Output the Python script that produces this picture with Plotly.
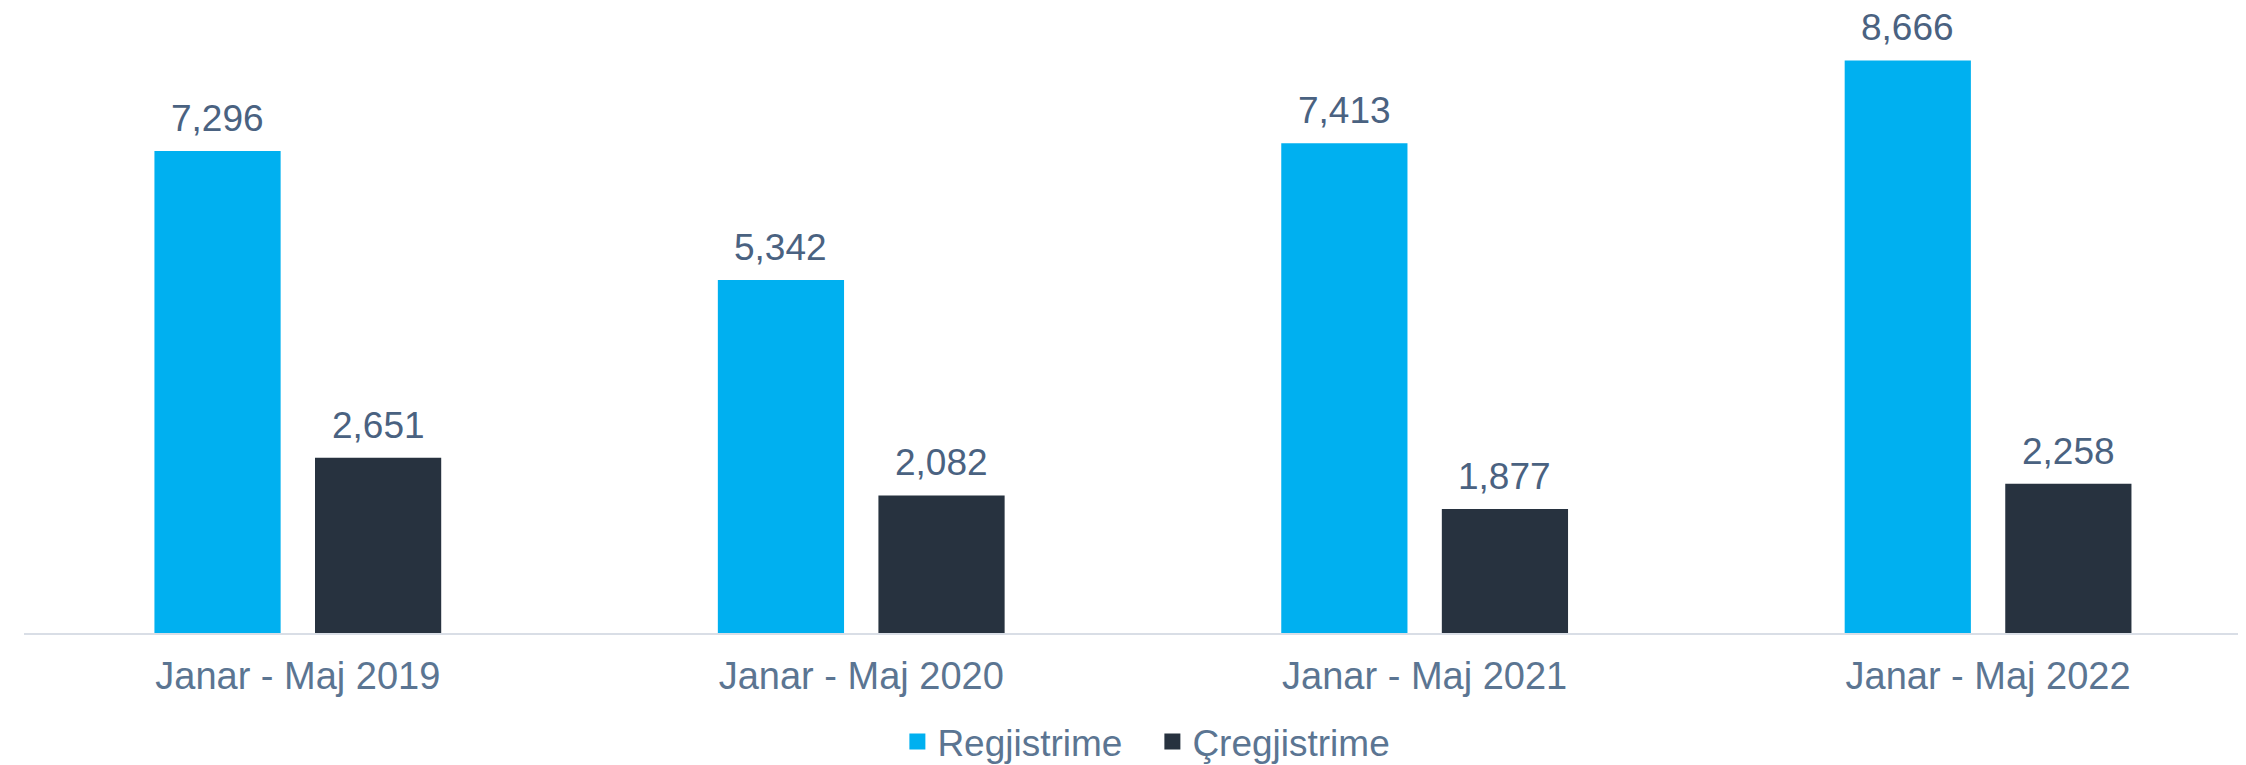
import plotly.graph_objects as go

categories = ["Janar - Maj 2019", "Janar - Maj 2020", "Janar - Maj 2021", "Janar - Maj 2022"]
regjistrime = [7296, 5342, 7413, 8666]
cregjistrime = [2651, 2082, 1877, 2258]
series_names = ["Regjistrime", "Çregjistrime"]
colors = ["#00B0F0", "#27323F"]

FONT = "Liberation Sans, Arial, sans-serif"
LABEL_COLOR = "#4A6281"
AXIS_TEXT = "#5B7592"

WIDTH, HEIGHT = 2246, 765
ML, MR = 16, 0
XRANGE = [-0.486, 3.472]
BARGAP = 0.43

fig = go.Figure()
series = [regjistrime, cregjistrime]
for name, vals, col in zip(series_names, series, colors):
    fig.add_trace(go.Bar(
        x=categories, y=vals, name=name, marker_color=col, marker_line_width=0,
        showlegend=False,
    ))
    fig.add_trace(go.Scatter(
        x=[None], y=[None], mode="markers", name=name,
        marker=dict(symbol="square", size=18, color=col),
        showlegend=True,
    ))

# value labels above bars, offset to each bar's slot within the group
cat_px = (WIDTH - ML - MR) / (XRANGE[1] - XRANGE[0])
slot_px = cat_px * (1 - BARGAP) / len(series)
for k, vals in enumerate(series):
    dx = (k - (len(series) - 1) / 2) * slot_px
    for j, v in enumerate(vals):
        fig.add_annotation(
            x=j, y=v, xref="x", yref="y", text=f"{v:,}", showarrow=False,
            xanchor="center", yanchor="bottom", xshift=dx, yshift=10,
            font=dict(family=FONT, size=37, color=LABEL_COLOR),
        )

fig.update_layout(
    width=WIDTH, height=HEIGHT,
    margin=dict(l=ML, r=MR, t=20, b=135),
    paper_bgcolor="white", plot_bgcolor="white",
    barmode="group", bargap=BARGAP, bargroupgap=0.214,
    font=dict(family=FONT, color=AXIS_TEXT),
    legend=dict(orientation="h", x=0.506, xanchor="center", y=-0.18, yanchor="middle",
                entrywidth=210, entrywidthmode="pixels",
                font=dict(family=FONT, size=37, color=AXIS_TEXT)),
)
fig.update_xaxes(
    type="category", range=XRANGE,
    showline=True, linecolor="#D9DEE6", linewidth=2,
    showgrid=False, ticks="", tickfont=dict(family=FONT, size=38, color=AXIS_TEXT),
    ticklabelstandoff=8,
)
fig.update_yaxes(range=[0, 9158], visible=False, showgrid=False, zeroline=False)

fig.write_html("out.html")
